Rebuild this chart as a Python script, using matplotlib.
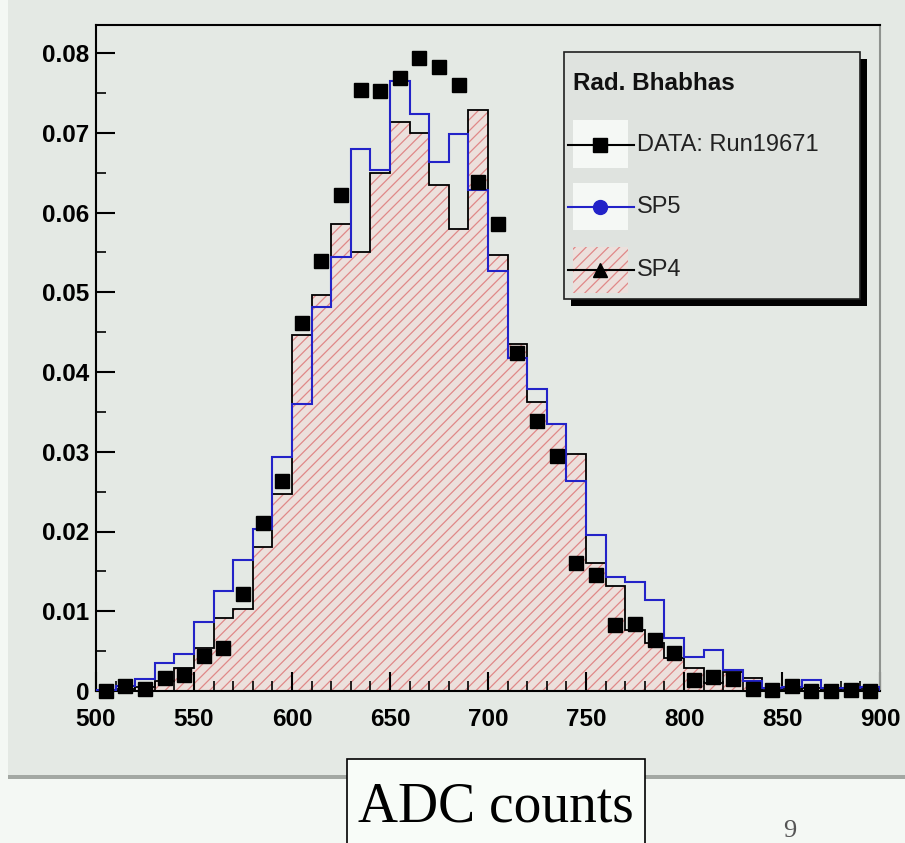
import numpy as np
import matplotlib
matplotlib.use("Agg")
import matplotlib.pyplot as plt
from matplotlib.patches import Rectangle
from matplotlib.lines import Line2D
from matplotlib.ticker import MultipleLocator

# ---------------- data ----------------
bin_edges = list(range(500, 901, 10))
bin_centers = [e + 5 for e in bin_edges[:-1]]

data_run19671 = [0.0000, 0.0006, 0.0002, 0.0016, 0.0020, 0.0044, 0.0054, 0.0122, 0.0211, 0.0263,
                 0.0462, 0.0539, 0.0622, 0.0754, 0.0752, 0.0769, 0.0794, 0.0783, 0.0760, 0.0638,
                 0.0585, 0.0424, 0.0338, 0.0295, 0.0161, 0.0146, 0.0083, 0.0084, 0.0064, 0.0048,
                 0.0014, 0.0018, 0.0015, 0.0003, 0.0001, 0.0006, 0.0000, 0.0000, 0.0001, 0.0000]

sp5 = [0.0001, 0.0006, 0.0015, 0.0035, 0.0047, 0.0087, 0.0125, 0.0164, 0.0203, 0.0294,
       0.0360, 0.0481, 0.0544, 0.0679, 0.0653, 0.0765, 0.0723, 0.0663, 0.0698, 0.0628,
       0.0527, 0.0418, 0.0379, 0.0335, 0.0263, 0.0195, 0.0143, 0.0137, 0.0114, 0.0066,
       0.0043, 0.0051, 0.0026, 0.0012, 0.0004, 0.0005, 0.0014, 0.0004, 0.0004, 0.0005]

sp4 = [0.0000, 0.0002, 0.0005, 0.0012, 0.0029, 0.0054, 0.0092, 0.0103, 0.0180, 0.0247,
       0.0447, 0.0496, 0.0585, 0.0551, 0.0650, 0.0713, 0.0700, 0.0635, 0.0579, 0.0729,
       0.0547, 0.0435, 0.0363, 0.0335, 0.0297, 0.0160, 0.0132, 0.0077, 0.0060, 0.0041,
       0.0029, 0.0010, 0.0024, 0.0016, 0.0001, 0.0003, 0.0004, 0.0002, 0.0001, 0.0002]

x_ticks = [500, 550, 600, 650, 700, 750, 800, 850, 900]
x_tick_labels = ["500", "550", "600", "650", "700", "750", "800", "850", "900"]
y_ticks = [0, 0.01, 0.02, 0.03, 0.04, 0.05, 0.06, 0.07, 0.08]
y_tick_labels = ["0", "0.01", "0.02", "0.03", "0.04", "0.05", "0.06", "0.07", "0.08"]

legend_title = "Rad. Bhabhas"
legend_labels = ["DATA: Run19671", "SP5", "SP4"]
xlabel_text = "ADC counts"
page_number = "9"

# ---------------- style ----------------
W, H = 905, 843
def fx(px):
    return px / W
def fy(py):
    return 1 - py / H

panel_bg = "#e4e9e4"
lower_bg = "#f4f8f4"
hatch_color = "#e08888"
hatch_face = "#ece0dc"
blue = "#2323c8"

plt.rcParams["hatch.linewidth"] = 0.9
plt.rcParams["font.family"] = ["Liberation Sans", "DejaVu Sans"]

fig = plt.figure(figsize=(W / 100, H / 100), dpi=100)
fig.patch.set_facecolor(lower_bg)

# upper grey panel and separator band
fig.add_artist(Rectangle((fx(8), fy(775)), fx(W - 8), 775 / H, transform=fig.transFigure,
                         facecolor=panel_bg, edgecolor="none", zorder=-2))
fig.add_artist(Rectangle((fx(8), fy(779)), fx(W - 8), 4 / H, transform=fig.transFigure,
                         facecolor="#a3a8a3", edgecolor="none", zorder=-1))

ax = fig.add_axes([fx(96), fy(691), fx(880 - 96), (691 - 25) / H])
ax.set_facecolor(panel_bg)
ax.set_xlim(500, 900)
ax.set_ylim(0, (691 - 25) / 7975)

# SP4 hatched fill + outline
ax.stairs(sp4, bin_edges, fill=True, facecolor=hatch_face, edgecolor=hatch_color,
          hatch="///", linewidth=0, zorder=1)
ax.stairs(sp4, bin_edges, color="black", linewidth=1.3, zorder=2)
# SP5
ax.stairs(sp5, bin_edges, color=blue, linewidth=1.5, zorder=3)
# DATA
ax.plot(bin_centers, data_run19671, linestyle="none", marker="s", markersize=10,
        color="black", zorder=4, clip_on=False)

# axes styling
for side in ["left", "top", "bottom"]:
    ax.spines[side].set_color("black")
    ax.spines[side].set_linewidth(1.5)
ax.spines["right"].set_color("#8f938f")
ax.spines["right"].set_linewidth(1.5)

ax.set_xticks(x_ticks)
ax.set_xticklabels(x_tick_labels)
ax.set_yticks(y_ticks)
ax.set_yticklabels(y_tick_labels)
ax.xaxis.set_minor_locator(MultipleLocator(10))
ax.yaxis.set_minor_locator(MultipleLocator(0.005))
ax.tick_params(axis="both", which="major", direction="in", length=14, width=1.5,
               labelsize=17.5, colors="black")
ax.tick_params(axis="both", which="minor", direction="in", length=7, width=1.2)
ax.tick_params(axis="y", which="major", pad=5)
ax.tick_params(axis="x", which="major", pad=12)
for lab in ax.get_xticklabels() + ax.get_yticklabels():
    lab.set_fontweight("bold")

# ---------------- legend (manual, ROOT style) ----------------
lx0, ly0, lx1, ly1 = 564, 52, 860, 299
fig.add_artist(Rectangle((fx(lx0 + 7), fy(ly1 + 7)), fx(lx1 - lx0), (ly1 - ly0) / H,
                         transform=fig.transFigure, facecolor="black", edgecolor="none", zorder=5))
fig.add_artist(Rectangle((fx(lx0), fy(ly1)), fx(lx1 - lx0), (ly1 - ly0) / H,
                         transform=fig.transFigure, facecolor="#dfe3df", edgecolor="#202020",
                         linewidth=1.2, zorder=6))
fig.text(fx(573), fy(83), legend_title, fontsize=17.5, fontweight="bold", va="center",
         ha="left", zorder=7, color="#111111")

entry_y = [145, 207, 270]
box_tops = [120, 183, 247]
box_bots = [168, 230, 293]
for i, lab in enumerate(legend_labels):
    if i < 2:
        fig.add_artist(Rectangle((fx(573), fy(box_bots[i])), fx(628 - 573),
                                 (box_bots[i] - box_tops[i]) / H, transform=fig.transFigure,
                                 facecolor="#f5f8f5", edgecolor="none", zorder=7))
    else:
        fig.add_artist(Rectangle((fx(573), fy(box_bots[i])), fx(628 - 573),
                                 (box_bots[i] - box_tops[i]) / H, transform=fig.transFigure,
                                 facecolor=hatch_face, edgecolor=hatch_color, hatch="///",
                                 linewidth=0, zorder=7))
    col = blue if i == 1 else "black"
    mk = ["s", "o", "^"][i]
    fig.add_artist(Line2D([fx(568), fx(634)], [fy(entry_y[i])] * 2, transform=fig.transFigure,
                          color=col, linewidth=1.5, zorder=8))
    fig.add_artist(Line2D([fx(600)], [fy(entry_y[i])], transform=fig.transFigure,
                          color=col, marker=mk, markersize=10, linestyle="none", zorder=9))
    fig.text(fx(637), fy(entry_y[i]), lab, fontsize=17, va="center", ha="left",
             color="#222222", zorder=9)

# ---------------- bottom caption ----------------
fig.add_artist(Rectangle((fx(347), -0.01), fx(645 - 347), (843 - 759) / H + 0.01,
                         transform=fig.transFigure, facecolor="#f8fcf8", edgecolor="black",
                         linewidth=1.2, zorder=3))
fig.text(fx(496), fy(822), xlabel_text, fontsize=40, family="Liberation Serif",
         ha="center", va="baseline", zorder=4, color="black")
fig.text(fx(790), fy(837), page_number, fontsize=19, family="Liberation Serif",
         ha="center", va="baseline", color="#555555")

fig.savefig("out.png", dpi=100, facecolor=fig.get_facecolor())
